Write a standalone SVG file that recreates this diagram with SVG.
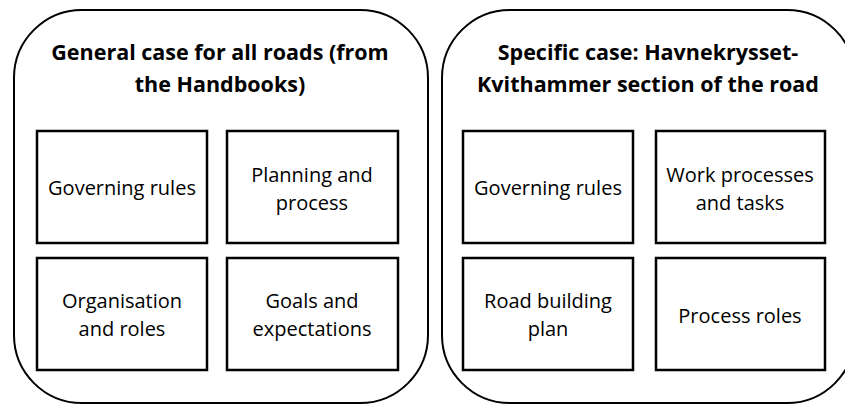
<svg xmlns="http://www.w3.org/2000/svg" width="845" height="406" viewBox="0 0 845 406">
<style>
.outer{fill:#fff;stroke:#000;stroke-width:2}
.box{fill:#fff;stroke:#000;stroke-width:2.5}
.title{font-family:"Open Sans","Liberation Sans",sans-serif;font-weight:bold;font-size:21.5px;text-anchor:middle;fill:#000}
.lbl{font-family:"Open Sans","Liberation Sans",sans-serif;font-size:20px;text-anchor:middle;fill:#000}
</style>
<rect width="845" height="406" fill="#fff"/>
<g id="general">
<rect class="outer" x="14" y="10" width="414" height="393" rx="68" ry="68"/>
<text class="title" x="220" y="60">General case for all roads (from</text>
<text class="title" x="220" y="92">the Handbooks)</text>
</g>
<g id="specific">
<rect class="outer" x="442" y="10" width="413" height="393" rx="68" ry="68"/>
<text class="title" x="648" y="60">Specific case: Havnekrysset-</text>
<text class="title" x="648" y="92">Kvithammer section of the road</text>
</g>
<g id="g-governing">
<rect class="box" x="37" y="131" width="170" height="112"/>
<text class="lbl" x="122" y="195">Governing rules</text>
</g>
<g id="g-planning">
<rect class="box" x="227" y="131" width="171" height="112"/>
<text class="lbl" x="312" y="182">Planning and</text>
<text class="lbl" x="312" y="210">process</text>
</g>
<g id="g-organisation">
<rect class="box" x="37" y="258" width="170" height="112"/>
<text class="lbl" x="122" y="308">Organisation</text>
<text class="lbl" x="122" y="336">and roles</text>
</g>
<g id="g-goals">
<rect class="box" x="227" y="258" width="171" height="112"/>
<text class="lbl" x="312" y="308">Goals and</text>
<text class="lbl" x="312" y="336">expectations</text>
</g>
<g id="s-governing">
<rect class="box" x="463" y="131" width="170" height="112"/>
<text class="lbl" x="548" y="195">Governing rules</text>
</g>
<g id="s-work">
<rect class="box" x="656" y="131" width="169" height="112"/>
<text class="lbl" x="740" y="182">Work processes</text>
<text class="lbl" x="740" y="210">and tasks</text>
</g>
<g id="s-road">
<rect class="box" x="463" y="258" width="170" height="112"/>
<text class="lbl" x="548" y="308">Road building</text>
<text class="lbl" x="548" y="336">plan</text>
</g>
<g id="s-process">
<rect class="box" x="656" y="258" width="169" height="112"/>
<text class="lbl" x="740" y="323">Process roles</text>
</g>
<g id="connectors"></g>
</svg>
